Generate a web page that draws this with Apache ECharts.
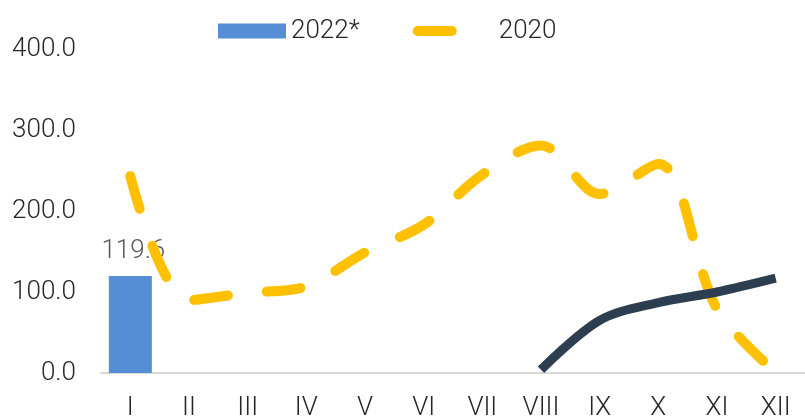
<!DOCTYPE html>
<html>
<head>
<meta charset="utf-8">
<script src="https://cdn.jsdelivr.net/npm/echarts@6/dist/echarts.min.js"></script>
<style>
html,body{margin:0;padding:0;background:#fff;}
#c{width:805px;height:418px;}
</style>
</head>
<body>
<div id="c"></div>
<script>
const categories = ['I','II','III','IV','V','VI','VII','VIII','IX','X','XI','XII'];
const values2022 = [119.6, null, null, null, null, null, null, null, null, null, null, null];
const values2020 = [243, 90, 99, 107, 149, 183, 245, 281, 221, 258, 79, 1];
const values2021 = [null, null, null, null, null, null, null, 4, 65, 87, 100, 117];
const yTicks = [0, 100, 200, 300, 400];

const FONT = 'Roboto';
const chart = echarts.init(document.getElementById('c'), null, {renderer: 'canvas'});
chart.setOption({
  animation: false,
  backgroundColor: '#ffffff',
  grid: {left: 101, right: 0, top: 49, bottom: 45, containLabel: false, outerBoundsMode: 'none'},
  legend: {
    left: 213,
    top: 13,
    itemWidth: 68,
    itemHeight: 15,
    itemGap: 53,
    textStyle: {fontFamily: FONT, fontWeight: 300, fontSize: 26, color: '#262626'},
    data: [
      {name: '2022*', icon: 'rect'},
      {
        name: '2020',
        textStyle: {padding: [0, 0, 0, 8]},
        lineStyle: {width: 10, cap: 'round', type: [34, 39], color: '#FFC000'},
        itemStyle: {opacity: 0}
      }
    ]
  },
  xAxis: {
    type: 'category',
    data: categories,
    boundaryGap: true,
    axisLine: {show: true, lineStyle: {color: '#d9d9d9', width: 2}},
    axisTick: {show: false},
    axisLabel: {fontFamily: FONT, fontWeight: 300, fontSize: 26, color: '#262626', margin: 22, interval: 0}
  },
  yAxis: {
    type: 'value',
    min: yTicks[0],
    max: yTicks[yTicks.length - 1],
    interval: 100,
    axisLine: {show: false},
    axisTick: {show: false},
    splitLine: {show: false},
    axisLabel: {
      fontFamily: FONT, fontWeight: 300, fontSize: 26, color: '#262626', margin: 25,
      formatter: v => v.toFixed(1)
    }
  },
  series: [
    {
      name: '2022*',
      type: 'bar',
      data: values2022,
      barWidth: 43,
      itemStyle: {color: '#558ED5'},
      label: {
        show: true, position: 'top', distance: 12, offset: [3, 0],
        fontFamily: FONT, fontWeight: 300, fontSize: 26, color: '#595959',
        formatter: p => p.value.toFixed(1)
      }
    },
    {
      name: '2020',
      type: 'line',
      data: values2020,
      smooth: 0.33,
      symbol: 'none',
      lineStyle: {color: '#FFC000', width: 10, type: [34, 39], cap: 'round'},
      itemStyle: {color: '#FFC000'},
      z: 3
    },
    {
      name: '2021',
      type: 'line',
      data: values2021,
      smooth: 0.33,
      symbol: 'none',
      lineStyle: {color: '#2C3E50', width: 9},
      itemStyle: {color: '#2C3E50'},
      z: 4
    }
  ]
});
</script>
</body>
</html>
